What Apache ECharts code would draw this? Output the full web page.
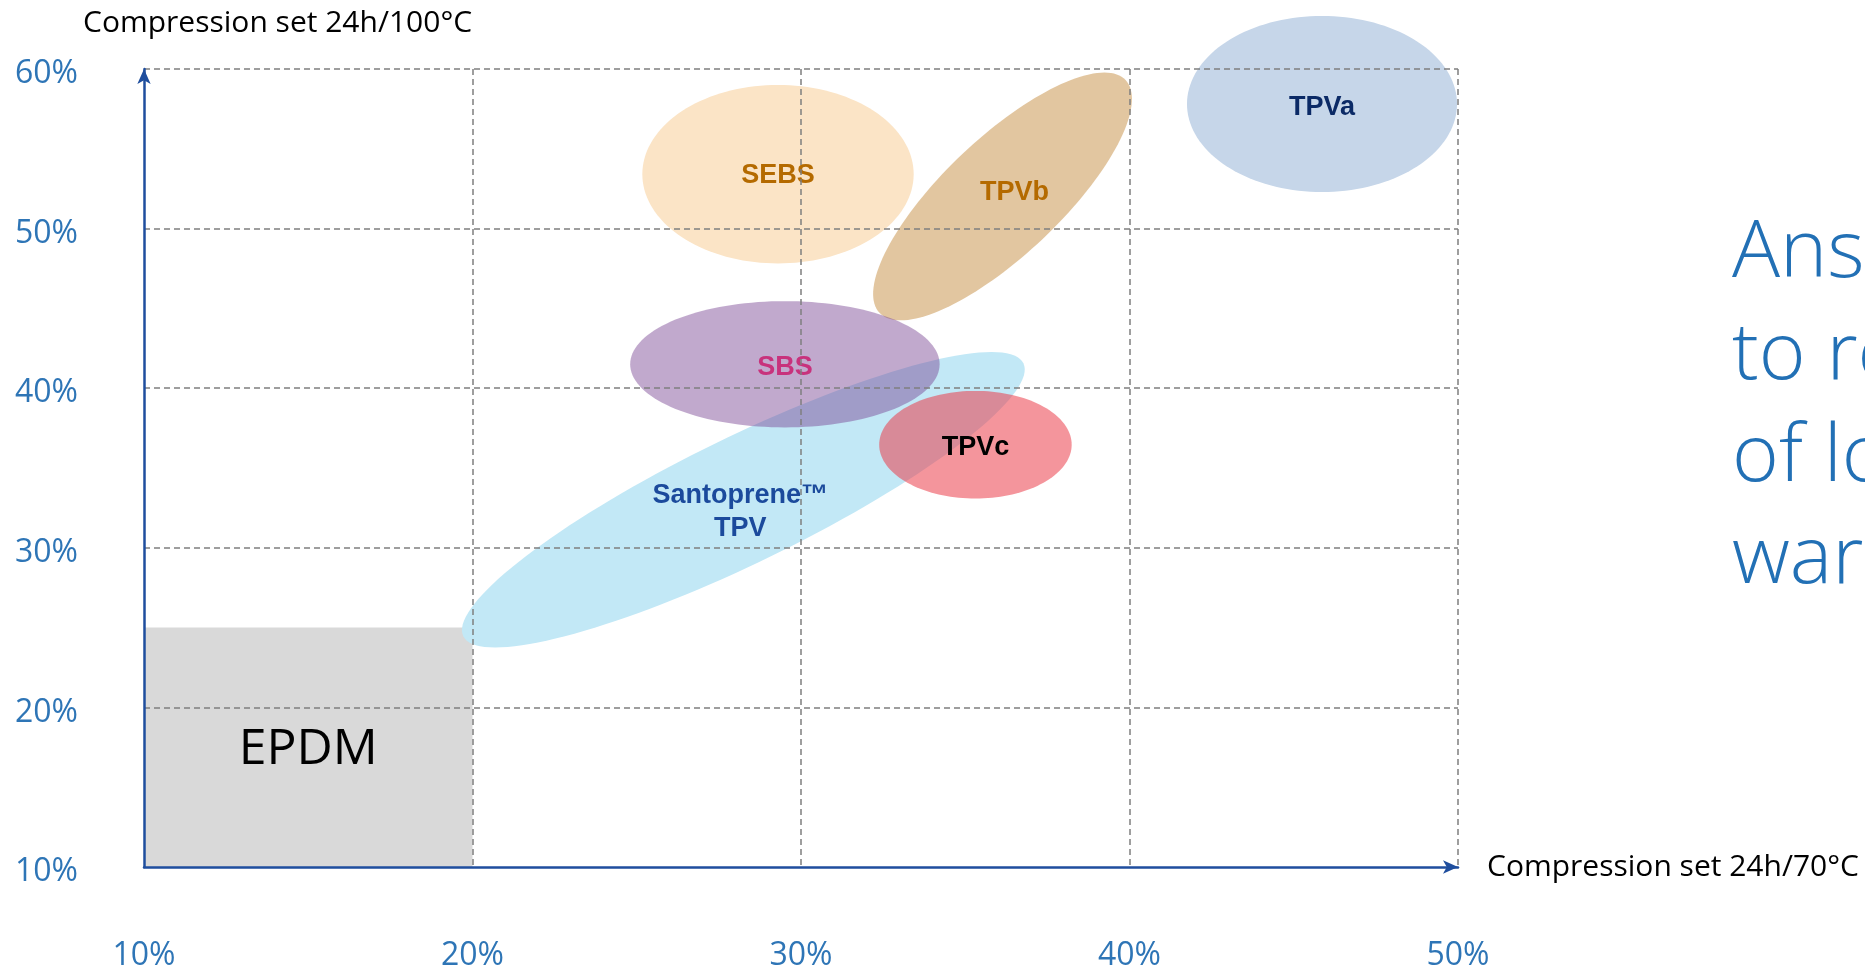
<!DOCTYPE html>
<html>
<head>
<meta charset="utf-8">
<title>Compression set</title>
<script src="https://cdn.jsdelivr.net/npm/echarts@6/dist/echarts.min.js"></script>
<style>
html, body { margin: 0; padding: 0; background: #fff; }
#main { width: 1865px; height: 965px; }
</style>
</head>
<body>
<div id="main"></div>
<script>
// 刻度
var xTicks = [10, 20, 30, 40, 50]
var yTicks = [10, 20, 30, 40, 50, 60]

// 材料区域: 长轴两端 (x1,y1)-(x2,y2), ratio = 短轴/长轴
var names = ['Santoprene™\nTPV', 'SEBS', 'TPVb', 'TPVa', 'SBS', 'TPVc']
var x1 = [19.72, 25.17, 32.39, 41.75, 24.80, 32.38]
var y1 = [24.46, 53.41, 44.72, 57.81, 41.50, 36.46]
var x2 = [36.77, 33.43, 39.88, 49.97, 34.22, 38.24]
var y2 = [41.56, 53.41, 59.31, 57.81, 41.50, 36.46]
var ratio = [0.202, 0.658, 0.345, 0.652, 0.408, 0.559]

// EPDM 范围 [x0, y0, x1, y1]
var epdm = [10, 10, 20, 25]

// 样式
var fills = ['#c2e8f6', '#fbe4c6', '#e2c6a0', '#c6d6e9', 'rgba(120,68,146,0.46)', 'rgba(235,59,72,0.54)']
var labelColors = ['#1b4a9c', '#b46a00', '#b46a00', '#0b2a66', '#c8327c', '#000000']
var labelShift = [[-3, 12], [0, 1], [12, -4], [0, 4], [0, 3], [0, 3]]

var regions = []
for (var i = 0; i < names.length; i++) {
    regions.push([x1[i], y1[i], x2[i], y2[i], ratio[i]])
}

function renderRegion(params, api) {
    var i = params.dataIndex
    var p1 = api.coord([api.value(0), api.value(1)])
    var p2 = api.coord([api.value(2), api.value(3)])
    var cx = (p1[0] + p2[0]) / 2
    var cy = (p1[1] + p2[1]) / 2
    var dx = (p2[0] - p1[0]) / 2
    var dy = (p2[1] - p1[1]) / 2
    var a = Math.sqrt(dx * dx + dy * dy)
    var b = a * api.value(4)
    var ux = dx / a, uy = dy / a
    var pts = []
    for (var k = 0; k < 144; k++) {
        var t = k / 144 * Math.PI * 2
        var ca = Math.cos(t) * a, sb = Math.sin(t) * b
        pts.push([cx + ca * ux - sb * uy, cy + ca * uy + sb * ux])
    }
    return {
        type: 'group',
        children: [
            { type: 'polygon', shape: { points: pts }, style: { fill: fills[i] } },
            {
                type: 'text', x: cx + labelShift[i][0], y: cy + labelShift[i][1],
                style: {
                    text: names[i], fill: labelColors[i],
                    font: 'bold 27px "Liberation Sans", Arial, sans-serif',
                    align: 'center', verticalAlign: 'middle', lineHeight: 33
                }
            }
        ]
    }
}

function renderBox(params, api) {
    var p0 = api.coord([api.value(0), api.value(1)])
    var p1 = api.coord([api.value(2), api.value(3)])
    return {
        type: 'group',
        children: [
            { type: 'rect', shape: { x: p0[0], y: p1[1], width: p1[0] - p0[0], height: p0[1] - p1[1] }, style: { fill: '#d9d9d9' } },
            {
                type: 'text', x: (p0[0] + p1[0]) / 2, y: (p0[1] + p1[1]) / 2 + 2,
                style: { text: 'EPDM', fill: '#000', font: '50px "Open Sans", sans-serif', align: 'center', verticalAlign: 'middle' }
            }
        ]
    }
}

var axisLine = {
    lineStyle: { color: '#1f4e9e', width: 2.5 },
    symbol: ['none', 'arrow'],
    symbolSize: [10, 15]
}
var splitLine = {
    showMinLine: false,
    lineStyle: { type: [6, 4], color: '#7f7f7f', width: 1.5 }
}

var myChart = echarts.init(document.getElementById('main'))
var option = {
    backgroundColor: '#fff',
    animation: false,
    title: {
        text: 'Compression set 24h/100°C',
        left: 78, top: 3,
        textStyle: { color: '#000', fontSize: 30, fontWeight: 'normal', fontFamily: 'Open Sans' }
    },
    grid: { left: 144, right: 407, top: 69, bottom: 98, outerBoundsMode: 'none' },
    xAxis: {
        type: 'value', z: 5,
        min: xTicks[0], max: xTicks[xTicks.length - 1], interval: 10,
        name: 'Compression set 24h/70°C', nameLocation: 'end', nameGap: 29,
        nameTextStyle: { color: '#000', fontSize: 30, fontFamily: 'Open Sans' },
        axisLine: axisLine,
        axisTick: { show: false },
        axisLabel: { formatter: '{value}%', color: '#2e75b6', fontSize: 32, fontFamily: 'Open Sans', margin: 73 },
        splitLine: splitLine
    },
    yAxis: {
        type: 'value', z: 5,
        min: yTicks[0], max: yTicks[yTicks.length - 1], interval: 10,
        axisLine: axisLine,
        axisTick: { show: false },
        axisLabel: {
            formatter: '{v|{value}%}', margin: 129, align: 'left',
            rich: {
                v: { color: '#2e75b6', fontSize: 32, fontFamily: 'Open Sans', padding: [10, 0, 0, 0] }
            }
        },
        splitLine: splitLine
    },
    graphic: [{
        type: 'text', left: 1732, top: 203, z: 10,
        style: {
            text: 'Ans\nto re\nof lo\nwar',
            fill: '#2270b5', font: '300 80px "Open Sans", sans-serif', lineHeight: 102
        }
    }],
    series: [
        {
            type: 'custom', renderItem: renderBox,
            encode: { x: [0, 2], y: [1, 3] },
            data: [epdm]
        },
        {
            type: 'custom', renderItem: renderRegion,
            encode: { x: [0, 2], y: [1, 3] },
            data: regions
        }
    ]
}
myChart.setOption(option)
</script>
</body>
</html>
